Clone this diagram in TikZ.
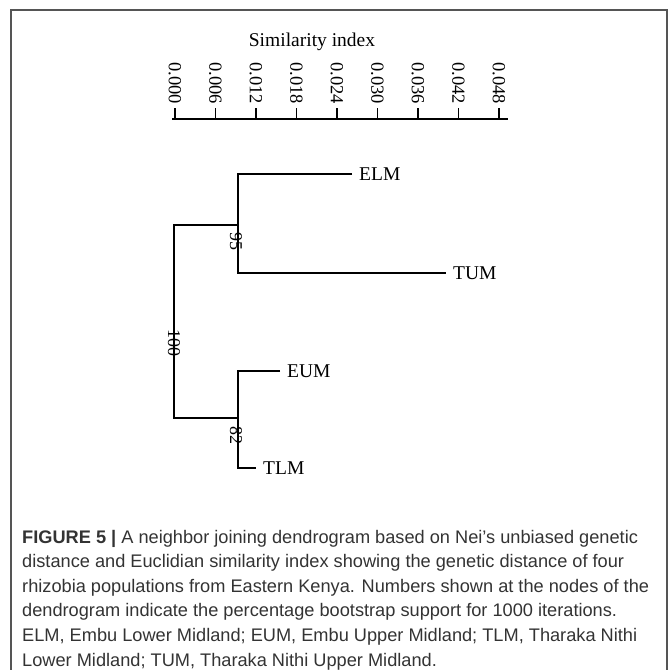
\documentclass[tikz,border=0pt]{standalone}
\usepackage{fontspec}
\setmainfont{Liberation Serif}
\newfontfamily\capfont{Liberation Sans}
\definecolor{captxt}{HTML}{333333}
\definecolor{framegray}{HTML}{555555}
\begin{document}
\begin{tikzpicture}[x=1pt,y=-1pt,
  branch/.style={line width=1.8pt,black},
  leaf/.style={font=\fontsize{19.5}{21}\selectfont,inner xsep=7pt,inner ysep=0pt,anchor=west},
  boot/.style={font=\fontsize{18}{20}\selectfont,rotate=-90,inner sep=0pt},
  ticklab/.style={font=\fontsize{18.5}{20}\selectfont,rotate=-90,inner sep=0pt,anchor=east},
  capline/.style={font=\capfont\fontsize{18.2}{20}\selectfont,text=captxt,anchor=base west,inner sep=0pt}]
\useasboundingbox (0,0) rectangle (670,670);
% frame
\draw[line width=1.3pt,framegray] (11,672) -- (11,10) -- (667,10) -- (667,672);
% axis
\node[font=\fontsize{19.5}{21}\selectfont] (title) at (312,42) {Similarity index};
\draw[branch] (172,119) -- (508,119);
\foreach \i/\lab in {0/0.000,1/0.006,2/0.012,3/0.018,4/0.024,5/0.030,6/0.036,7/0.042,8/0.048}{
  \draw[line width=1.5pt] (175+\i*40.5,108) -- (175+\i*40.5,119);
  \node[ticklab] (t\i) at (175+\i*40.5,104) {\lab};
}
% leaves
\node[leaf] (ELM) at (352,174) {ELM};
\node[leaf] (TUM) at (446,273) {TUM};
\node[leaf] (EUM) at (280,371) {EUM};
\node[leaf] (TLM) at (256,468) {TLM};
\coordinate (a95) at (238,225);
\coordinate (a82) at (238,418);
\coordinate (root) at (174,320);
\draw[branch] (ELM.west) -| (a95) |- (TUM.west);
\draw[branch] (EUM.west) -| (a82) |- (TLM.west);
\draw[branch] (a95) -| (root) |- (a82);
% bootstrap values
\node[boot] (b95) at (236,241) {95};
\node[boot] (b100) at (174,343) {100};
\node[boot] (b82) at (236,435) {82};
% caption
\node[capline] (c1) at (22,543) {\textbf{FIGURE 5 |} A neighbor joining dendrogram based on Nei’s unbiased genetic};
\node[capline] (c2) at (22,567.6) {distance and Euclidian similarity index showing the genetic distance of four};
\node[capline] (c3) at (22,592.2) {rhizobia populations from Eastern Kenya. Numbers shown at the nodes of the};
\node[capline] (c4) at (22,616.8) {dendrogram indicate the percentage bootstrap support for 1000 iterations.};
\node[capline] (c5) at (22,641.4) {ELM, Embu Lower Midland; EUM, Embu Upper Midland; TLM, Tharaka Nithi};
\node[capline] (c6) at (22,666) {Lower Midland; TUM, Tharaka Nithi Upper Midland.};
\end{tikzpicture}
\end{document}
